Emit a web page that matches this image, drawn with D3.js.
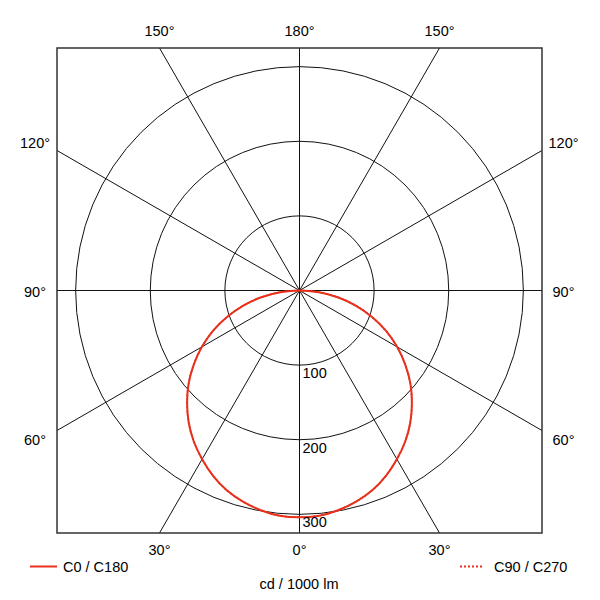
<!DOCTYPE html>
<html>
<head>
<meta charset="utf-8">
<script src="https://cdn.jsdelivr.net/npm/d3@7"></script>
<style>
  html, body { margin: 0; padding: 0; background: #fff; }
  svg text { font-family: "Liberation Sans", Arial, sans-serif; font-size: 14.5px; fill: #000; }
</style>
</head>
<body>
<svg id="chart" width="600" height="600"></svg>
<script>
// ---- data ----
const gammaAngles = [0, 5, 10, 15, 20, 25, 30, 35, 40, 45, 50, 55, 60, 65, 70, 75, 80, 85, 90];
const c0c180 = [304, 303, 299, 293, 285, 274, 261, 247, 231, 213, 194, 173, 151, 128, 103, 78, 52, 26, 0];
const c90c270 = [304, 303, 299, 293, 285, 274, 261, 247, 231, 213, 194, 173, 151, 128, 103, 78, 52, 26, 0];
const ringValues = [100, 200, 300];
const ringLabels = ["100", "200", "300"];
const spokeAngles = [0, 30, 60, 90, 120, 150, 180, 210, 240, 270, 300, 330];
const sideLabels = ["30°", "60°", "90°", "120°", "150°"];
const legendNames = ["C0 / C180", "C90 / C270"];
const unitLabel = "cd / 1000 lm";

// ---- layout ----
const svg = d3.select("#chart");
const box = { x: 57, y: 48, w: 485, h: 485 };
const cx = box.x + box.w / 2, cy = box.y + box.h / 2;
const half = box.w / 2;
const r = d3.scaleLinear().domain([0, 325]).range([0, half]);
const red = "#e8301c";

const g = svg.append("g").attr("transform", `translate(${cx},${cy})`);

// rings
g.selectAll("circle.ring").data(ringValues).join("circle")
  .attr("class", "ring").attr("r", d => r(d))
  .attr("fill", "none").attr("stroke", "#111").attr("stroke-width", 1);

// spokes (gamma measured from downward direction)
function dir(a) {
  const rad = a * Math.PI / 180;
  return [Math.sin(rad), Math.cos(rad)];
}
function edgeT(a) {
  const [dx, dy] = dir(a);
  const tx = Math.abs(dx) > 1e-9 ? half / Math.abs(dx) : Infinity;
  const ty = Math.abs(dy) > 1e-9 ? half / Math.abs(dy) : Infinity;
  return Math.min(tx, ty);
}
g.selectAll("line.spoke").data(spokeAngles).join("line")
  .attr("class", "spoke")
  .attr("x1", 0).attr("y1", 0)
  .attr("x2", d => dir(d)[0] * edgeT(d))
  .attr("y2", d => dir(d)[1] * edgeT(d))
  .attr("stroke", "#111").attr("stroke-width", 1);

// curves
function buildPoints(vals) {
  const pts = [];
  for (let i = gammaAngles.length - 1; i >= 0; i--) pts.push({ g: -gammaAngles[i], v: vals[i] });
  for (let i = 1; i < gammaAngles.length; i++) pts.push({ g: gammaAngles[i], v: vals[i] });
  return pts;
}
const radial = d3.lineRadial()
  .angle(d => Math.PI - d.g * Math.PI / 180)
  .radius(d => r(d.v))
  .curve(d3.curveCatmullRom);

g.append("path").datum(buildPoints(c0c180))
  .attr("d", radial).attr("fill", "none")
  .attr("stroke", red).attr("stroke-width", 2);
g.append("path").datum(buildPoints(c90c270))
  .attr("d", radial).attr("fill", "none")
  .attr("stroke", red).attr("stroke-width", 1.6).attr("stroke-dasharray", "2,2");

// box
svg.append("rect").attr("x", box.x).attr("y", box.y).attr("width", box.w).attr("height", box.h)
  .attr("fill", "none").attr("stroke", "#333").attr("stroke-width", 1.5);

// ring labels
g.selectAll("text.ring").data(ringValues).join("text")
  .attr("class", "ring")
  .attr("x", 3).attr("y", d => r(d) + 13)
  .text((d, i) => ringLabels[i]);

// angle labels
const labels = [];
labels.push({ t: "150°", x: cx + dir(150)[0] * edgeT(150), y: 36, anchor: "middle" });
labels.push({ t: "180°", x: cx, y: 36, anchor: "middle" });
labels.push({ t: "150°", x: cx + dir(210)[0] * edgeT(210), y: 36, anchor: "middle" });
labels.push({ t: "30°", x: cx + dir(-30)[0] * edgeT(-30), y: 555, anchor: "middle" });
labels.push({ t: "0°", x: cx, y: 555, anchor: "middle" });
labels.push({ t: "30°", x: cx + dir(30)[0] * edgeT(30), y: 555, anchor: "middle" });
[60, 90, 120].forEach(a => {
  const yi = cy + dir(a)[1] * edgeT(a);
  const s = Math.abs(dir(a)[1]) < 1e-6 ? 0 : Math.sign(dir(a)[1]);
  const yc = yi + s * 8 + 1;
  const t = sideLabels[a / 30 - 1];
  labels.push({ t, x: 35, y: yc + 5, anchor: "middle" });
  labels.push({ t, x: 563.5, y: yc + 5, anchor: "middle" });
});
svg.selectAll("text.ang").data(labels).join("text")
  .attr("class", "ang")
  .attr("x", d => d.x).attr("y", d => d.y)
  .attr("text-anchor", d => d.anchor)
  .text(d => d.t);

// legend
svg.append("line").attr("x1", 30).attr("x2", 57).attr("y1", 566.5).attr("y2", 566.5)
  .attr("stroke", red).attr("stroke-width", 2);
svg.append("text").attr("x", 63).attr("y", 572).text(legendNames[0]);
svg.append("line").attr("x1", 460).attr("x2", 484).attr("y1", 566.5).attr("y2", 566.5)
  .attr("stroke", red).attr("stroke-width", 2).attr("stroke-dasharray", "2,2");
svg.append("text").attr("x", 494).attr("y", 572).text(legendNames[1]);
svg.append("text").attr("x", 299).attr("y", 589).attr("text-anchor", "middle").text(unitLabel);
</script>
</body>
</html>
